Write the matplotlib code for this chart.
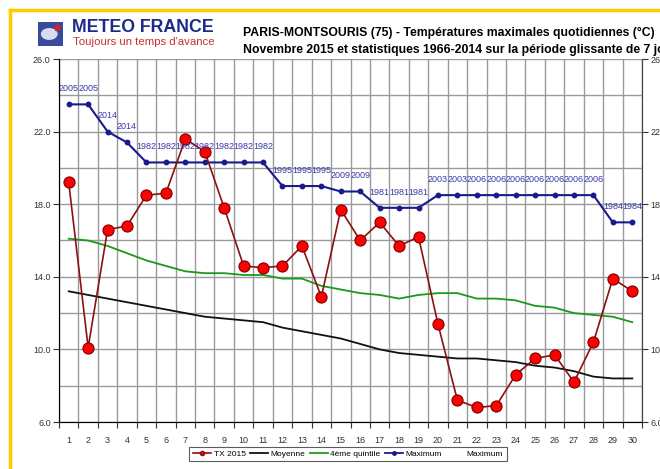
import matplotlib
matplotlib.use("Agg")
import matplotlib.pyplot as plt
from matplotlib.lines import Line2D
from matplotlib.patches import Rectangle, Circle
import numpy as np

plt.rcParams['font.family'] = ['Liberation Sans', 'DejaVu Sans']

days = list(range(1, 31))
tx2015 = [19.2, 10.1, 16.6, 16.8, 18.5, 18.6, 21.6, 20.9, 17.8, 14.6,
          14.5, 14.6, 15.7, 12.9, 17.7, 16.0, 17.0, 15.7, 16.2, 11.4,
          7.2, 6.8, 6.9, 8.6, 9.5, 9.7, 8.2, 10.4, 13.9, 13.2]
moyenne = [13.2, 13.0, 12.8, 12.6, 12.4, 12.2, 12.0, 11.8, 11.7, 11.6,
           11.5, 11.2, 11.0, 10.8, 10.6, 10.3, 10.0, 9.8, 9.7, 9.6,
           9.5, 9.5, 9.4, 9.3, 9.1, 9.0, 8.8, 8.5, 8.4, 8.4]
quintile4 = [16.1, 16.0, 15.7, 15.3, 14.9, 14.6, 14.3, 14.2, 14.2, 14.1,
             14.1, 13.9, 13.9, 13.5, 13.3, 13.1, 13.0, 12.8, 13.0, 13.1,
             13.1, 12.8, 12.8, 12.7, 12.4, 12.3, 12.0, 11.9, 11.8, 11.5]
maximum = [23.5, 23.5, 22.0, 21.4, 20.3, 20.3, 20.3, 20.3, 20.3, 20.3,
           20.3, 19.0, 19.0, 19.0, 18.7, 18.7, 17.8, 17.8, 17.8, 18.5,
           18.5, 18.5, 18.5, 18.5, 18.5, 18.5, 18.5, 18.5, 17.0, 17.0]
max_years = ["2005", "2005", "2014", "2014", "1982", "1982", "1982", "1982", "1982", "1982",
             "1982", "1995", "1995", "1995", "2009", "2009", "1981", "1981", "1981", "2003",
             "2003", "2006", "2006", "2006", "2006", "2006", "2006", "2006", "1984", "1984"]
yticks = [6.0, 10.0, 14.0, 18.0, 22.0, 26.0]

fig = plt.figure(figsize=(6.6, 4.69), dpi=100)
fig.patch.set_facecolor('white')
ax = fig.add_axes([59/660, 1-422/469, (642-59)/660, (422-59)/469])

ax.set_xlim(0.5, 30.5)
ax.set_ylim(6, 26)

# grid
ax.set_yticks(yticks)
ax.set_yticklabels([f"{v:.1f}" for v in yticks], fontsize=6.5, color='#333333')
ax.set_yticks(np.arange(6, 27, 2), minor=True)
ax.set_xticks(np.arange(0.5, 31, 1))
ax.set_xticklabels([])
ax.set_xticks(days, minor=True)
ax.set_xticklabels([str(d) for d in days], minor=True, fontsize=6.5, color='#333333')
ax.tick_params(axis='x', which='minor', length=0, pad=10)
ax.tick_params(axis='x', which='major', length=4, direction='out', color='#333333')
ax.tick_params(axis='y', which='major', length=4, direction='out', color='#333333', pad=2)
ax.tick_params(axis='y', which='minor', length=0)
ax.grid(True, which='major', axis='x', color='#9a9a9a', linewidth=1.0)
ax.grid(True, which='both', axis='y', color='#9a9a9a', linewidth=1.0)
ax.set_axisbelow(True)
ax.spines['top'].set_visible(False)
ax.spines['left'].set_color('#444444')
ax.spines['bottom'].set_color('#444444')
ax.spines['right'].set_color('#444444')

ax.plot(days, quintile4, color='#1a9a1a', linewidth=1.3, zorder=3)
ax.plot(days, moyenne, color='#111111', linewidth=1.3, zorder=3)
ax.plot(days, maximum, color='#1a1a8c', linewidth=1.5, marker='o', markersize=3.2,
        markerfacecolor='#1a1a8c', markeredgecolor='#1a1a8c', zorder=4)
ax.plot(days, tx2015, color='#8b1010', linewidth=1.2, marker='o', markersize=8,
        markerfacecolor='#ff0000', markeredgecolor='#7a0000', markeredgewidth=0.8, zorder=5)

for d, v, yr in zip(days, maximum, max_years):
    ax.annotate(yr, (d, v), xytext=(0, 8), textcoords='offset points', ha='center',
                va='bottom', fontsize=6.5, color='#3a3aa8', zorder=6)

# right axis
ax2 = ax.twinx()
ax2.set_ylim(6, 26)
ax2.set_yticks(yticks)
ax2.set_yticklabels(["6.0", "10", "14", "18", "22", "26"], fontsize=6.5, color='#333333')
ax2.tick_params(axis='y', length=4, direction='out', color='#333333', pad=2)
ax2.spines['top'].set_visible(False)
ax2.spines['right'].set_color('#444444')

# titles
fig.text(243/660, 1-33/469, "PARIS-MONTSOURIS (75) - Températures maximales quotidiennes (°C)",
         fontsize=8.8, fontweight='bold', ha='left', va='center', color='black')
fig.text(243/660, 1-50/469, "Novembre 2015 et statistiques 1966-2014 sur la période glissante de 7 jours",
         fontsize=8.8, fontweight='bold', ha='left', va='center', color='black')

# logo
fig.text(72/660, 1-28/469, "METEO FRANCE", fontsize=12.8, fontweight='bold', color='#1c2a88',
         ha='left', va='center')
fig.text(73/660, 1-42/469, "Toujours un temps d'avance", fontsize=8.2, color='#c8322a',
         ha='left', va='center')
lx, ly, lw, lh = 38/660, 1-46/469, 25/660, 24/469
fig.patches.append(Rectangle((lx, ly), lw, lh, transform=fig.transFigure,
                             facecolor='#3a4a9a', edgecolor='none'))
fig.patches.append(Circle((lx + lw*0.45, ly + lh*0.5), 0.35*lh*469/660, transform=fig.transFigure,
                          facecolor='#d8dcf0', edgecolor='none'))
fig.add_artist(Line2D([lx + lw*0.75], [ly + lh*0.8], marker='*', color='#e02020',
                      markersize=5, transform=fig.transFigure))

# yellow border
fig.add_artist(Line2D([10/660, 10/660], [0, 1-10/469], color='#ffcc00', linewidth=2.5,
                      transform=fig.transFigure))
fig.add_artist(Line2D([10/660, 1], [1-10/469, 1-10/469], color='#ffcc00', linewidth=2.5,
                      transform=fig.transFigure))

# legend
handles = [
    Line2D([], [], color='#8b1010', marker='o', markersize=3, markerfacecolor='#ff0000',
           markeredgecolor='#8b1010', linewidth=1.2),
    Line2D([], [], color='#111111', linewidth=1.3),
    Line2D([], [], color='#1a9a1a', linewidth=1.3),
    Line2D([], [], color='#1a1a8c', marker='o', markersize=2.5, linewidth=1.3),
    Line2D([], [], color='none', linewidth=0),
]
labels = ["TX 2015", "Moyenne", "4ème quintile", "Maximum", "Maximum"]
leg = fig.legend(handles, labels, loc='center', bbox_to_anchor=(348/660, 1-454/469), ncol=5,
                 fontsize=6.0, frameon=True, fancybox=False, edgecolor='#333333',
                 handlelength=2.2, handletextpad=0.3, columnspacing=0.5, borderpad=0.4,
                 borderaxespad=0.2)
leg.get_frame().set_linewidth(0.8)

fig.savefig('out.png', dpi=100, facecolor='white')
